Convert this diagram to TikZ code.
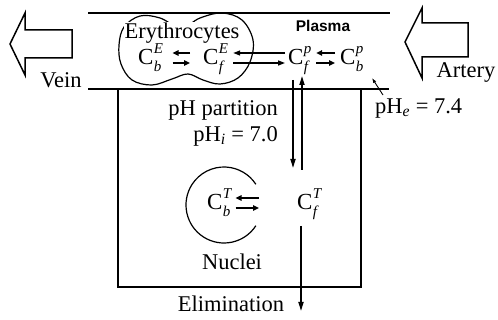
\documentclass[tikz,border=0pt]{standalone}
\usepackage{fontspec}
\setmainfont{Liberation Serif}
\newfontfamily\plasmafont{Liberation Sans}
\usetikzlibrary{arrows.meta}
\newcommand\concsc{\fontsize{15}{15}\selectfont\itshape}
\newcommand\conc[2]{C\kern0.3pt\rlap{\raisebox{0.5em}{\concsc #1}}\raisebox{-0.28em}{\concsc #2}}
\tikzset{
  lbl/.style={font=\fontsize{22.5}{26}\selectfont, inner sep=0pt},
  concnode/.style={font=\fontsize{23}{27}\selectfont, inner sep=0pt, anchor=base west},
  eqarr/.style={line width=1.8pt, -{Triangle[length=6pt,width=5.5pt]}},
  longarr/.style={line width=1.3pt, -{Triangle[length=7pt,width=5pt]}},
  vertarr/.style={line width=1.7pt, -{Triangle[length=9pt,width=5pt]}},
  frameline/.style={line width=1.5pt},
  hollowarr/.style={line width=1.5pt, line join=miter},
  pointer/.style={line width=0.9pt, -{Latex[length=5pt,width=3.5pt]}},
}
\begin{document}
\begin{tikzpicture}[x=1pt,y=-1pt]
\useasboundingbox (0,0) rectangle (498,320);

% plasma strip and tissue box
\draw[frameline] (88,13) -- (390,13);
\draw[frameline] (88,89) -- (389,89);
\draw[frameline] (118,89) -- (118,287) -- (361,287) -- (361,89);

% hollow arrows
\draw[hollowarr] (10,44) -- (25,13) -- (25,30) -- (72,30) -- (72,58) -- (25,58) -- (25,75) -- cycle;
\draw[hollowarr] (405,42) -- (422,8) -- (422,23) -- (468,23) -- (468,57) -- (422,57) -- (422,78) -- cycle;

% erythrocyte outline
\draw[line width=1.2pt] plot[smooth cycle, tension=0.6] coordinates {
  (119,45) (124,27) (140,16) (160,18) (181,28) (200,18) (222,13) (242,20)
  (253,40) (250,62) (238,78) (220,84) (203,80) (188,74) (172,79) (152,85)
  (132,80) (121,64)};

% labels
\node[lbl, fill=white, inner sep=0.5pt] (ery) at (182,33) {Erythrocytes};
\node[font=\plasmafont\bfseries\fontsize{15.5}{19}\selectfont, inner sep=0pt] (plasma) at (323,26) {Plasma};
\node[lbl] (vein) at (61,80) {Vein};
\node[lbl] (artery) at (466,73) {Artery};
\node[lbl, anchor=east] (phpart) at (278,110) {pH partition};
\node[lbl, anchor=east] (phi) at (278,136) {pH\textsubscript{\itshape i} = 7.0};
\node[lbl, anchor=west] (phe) at (375,108) {pH\textsubscript{\itshape e} = 7.4};
\node[lbl] (nuclei) at (232,262) {Nuclei};
\node[lbl] (elim) at (231,304) {Elimination};

% concentrations
\node[concnode] (cbE) at (138,65) {\conc{E}{b}};
\node[concnode] (cfE) at (203,65) {\conc{E}{f}};
\node[concnode] (cfp) at (288,65) {\conc{p}{f}};
\node[concnode] (cbp) at (340,65) {\conc{p}{b}};
\node[concnode] (cbT) at (207,210) {\conc{T}{b}};
\node[concnode] (cfT) at (297,210) {\conc{T}{f}};

% nucleus circle
\draw[line width=1.2pt] (224,205) ++(33:38) arc[start angle=33, end angle=327, radius=38];

% equilibria
\draw[eqarr] ([shift={(-13,-12)}]cfE.base west) -- ([shift={(11,-12)}]cbE.base east);
\draw[eqarr] ([shift={(11,-2)}]cbE.base east) -- ([shift={(-13,-2)}]cfE.base west);
\draw[longarr] ([shift={(-3,-12)}]cfp.base west) -- ([shift={(10,-12)}]cfE.base east);
\draw[longarr] ([shift={(10,-2)}]cfE.base east) -- ([shift={(-3,-2)}]cfp.base west);
\draw[eqarr] ([shift={(-5,-12)}]cbp.base west) -- ([shift={(8,-12)}]cfp.base east);
\draw[eqarr] ([shift={(8,-2)}]cfp.base east) -- ([shift={(-5,-2)}]cbp.base west);
\draw[eqarr] ([shift={(-38,-12)}]cfT.base west) -- ([shift={(5,-12)}]cbT.base east);
\draw[eqarr] ([shift={(5,-2)}]cbT.base east) -- ([shift={(-38,-2)}]cfT.base west);

% transport between plasma and tissue
\draw[vertarr] ([shift={(5,15)}]cfp.base west) -- ([shift={(-4,-42)}]cfT.base west);
\draw[vertarr] ([shift={(5,-40)}]cfT.base west) -- ([shift={(14,11)}]cfp.base west);

% elimination
\coordinate (elimend) at (301,311);
\draw[vertarr] ([shift={(4,16)}]cfT.base west) -- (elimend);

% pH_e pointer
\coordinate (phefoot) at (383,95);
\coordinate (phetip) at (372,78);
\draw[pointer] (phefoot) -- (phetip);
\end{tikzpicture}
\end{document}
